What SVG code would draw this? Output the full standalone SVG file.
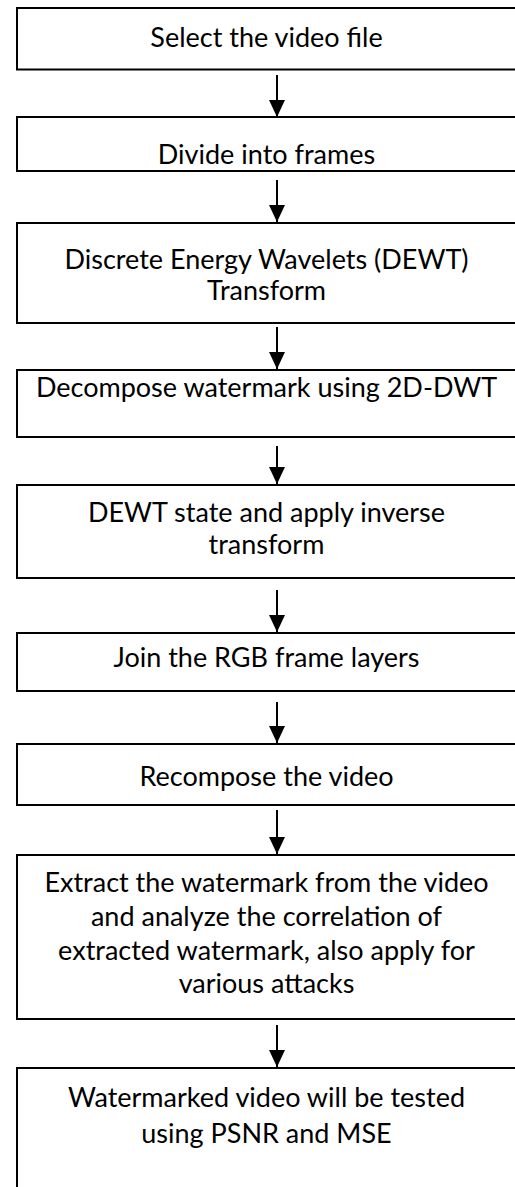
<svg xmlns="http://www.w3.org/2000/svg" width="515" height="1187" viewBox="0 0 515 1187">
  <style>
    .box { fill: #ffffff; stroke: #000000; stroke-width: 2; }
    .lbl { font-family: Lato, "Liberation Sans", sans-serif; font-size: 27px; fill: #000000; text-anchor: middle; }
    .wire { stroke: #000000; stroke-width: 2; fill: none; marker-end: url(#head); }
  </style>
  <defs>
    <!-- solid triangular arrowhead, tip at the end of the line -->
    <marker id="head" markerUnits="userSpaceOnUse" markerWidth="17" markerHeight="16" refX="17" refY="8" orient="auto" viewBox="0 0 17 16">
      <path d="M0,0 L17,8 L0,16 Z" fill="#000000"/>
    </marker>
  </defs>
  <rect width="515" height="1187" fill="#ffffff"/>

  <!-- process steps -->
  <g id="step-select">
    <rect class="box" x="17" y="8" width="520" height="61.5"/>
    <text class="lbl" x="266.5" y="46.5">Select the video file</text>
  </g>
  <g id="step-divide">
    <rect class="box" x="17" y="117" width="520" height="54"/>
    <text class="lbl" x="266.5" y="164">Divide into frames</text>
  </g>
  <g id="step-dewt">
    <rect class="box" x="17" y="223" width="520" height="100"/>
    <text class="lbl" x="266.5" y="269">Discrete Energy Wavelets (DEWT)</text>
    <text class="lbl" x="266.5" y="300">Transform</text>
  </g>
  <g id="step-decompose">
    <rect class="box" x="17" y="370" width="520" height="67"/>
    <text class="lbl" x="266.5" y="397">Decompose watermark using 2D-DWT</text>
  </g>
  <g id="step-inverse">
    <rect class="box" x="17" y="485" width="520" height="93"/>
    <text class="lbl" x="266.5" y="522">DEWT state and apply inverse</text>
    <text class="lbl" x="266.5" y="554">transform</text>
  </g>
  <g id="step-join">
    <rect class="box" x="17" y="633" width="520" height="58"/>
    <text class="lbl" x="266.5" y="667">Join the RGB frame layers</text>
  </g>
  <g id="step-recompose">
    <rect class="box" x="17" y="744" width="520" height="61"/>
    <text class="lbl" x="266.5" y="786">Recompose the video</text>
  </g>
  <g id="step-extract">
    <rect class="box" x="17" y="855" width="520" height="164"/>
    <text class="lbl" x="266.5" y="892">Extract the watermark from the video</text>
    <text class="lbl" x="266.5" y="926">and analyze the correlation of</text>
    <text class="lbl" x="266.5" y="960">extracted watermark, also apply for</text>
    <text class="lbl" x="266.5" y="993">various attacks</text>
  </g>
  <g id="step-test">
    <rect class="box" x="17" y="1068" width="520" height="140"/>
    <text class="lbl" x="266.5" y="1107">Watermarked video will be tested</text>
    <text class="lbl" x="266.5" y="1143">using PSNR and MSE</text>
  </g>

  <!-- connectors -->
  <g id="connectors">
    <line class="wire" x1="277" y1="75" x2="277" y2="117"/>
    <line class="wire" x1="277" y1="180" x2="277" y2="222"/>
    <line class="wire" x1="277" y1="327" x2="277" y2="369"/>
    <line class="wire" x1="277" y1="446" x2="277" y2="484"/>
    <line class="wire" x1="277" y1="590" x2="277" y2="632"/>
    <line class="wire" x1="277" y1="702" x2="277" y2="743"/>
    <line class="wire" x1="277" y1="810" x2="277" y2="854"/>
    <line class="wire" x1="277" y1="1025" x2="277" y2="1067"/>
  </g>
</svg>
